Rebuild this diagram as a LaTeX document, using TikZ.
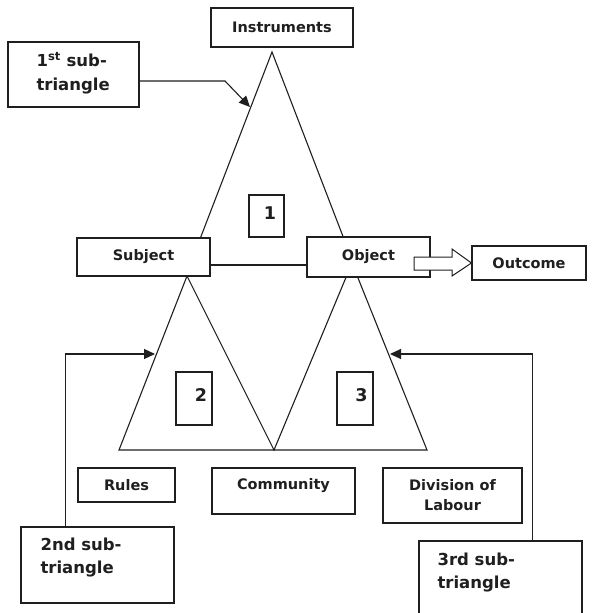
\documentclass[tikz,border=0pt]{standalone}
\usepackage{fontspec}
\setmainfont{DejaVu Sans}
\usetikzlibrary{arrows.meta}
\definecolor{ink}{gray}{0.12}
\begin{document}
\begin{tikzpicture}[x=1pt,y=-1pt, line width=1.1pt, draw=ink, text=ink,
  box/.style={draw=ink, fill=white, inner sep=0pt},
  lbl/.style={font=\fontsize{14.5}{20}\bfseries\selectfont, align=center},
  big/.style={font=\fontsize{16.5}{23.5}\bfseries\selectfont, align=left, inner sep=0pt},
  num/.style={font=\fontsize{17.5}{20}\bfseries\selectfont},
  tip/.style={-{Triangle[length=11pt,width=10pt]}}]
\useasboundingbox (0,0) rectangle (592,613);
\clip (0,0) rectangle (592,613);

% triangles
\coordinate (A1) at (272,52);
\coordinate (L1) at (190,265);
\coordinate (R1) at (354,265);
\coordinate (A2) at (187,276);
\coordinate (L2) at (119,450);
\coordinate (M)  at (274,450);
\coordinate (A3) at (352,263);
\coordinate (R3) at (427,450);
\draw (A1) -- (L1) -- (R1) -- cycle;
\draw (A2) -- (L2) -- (M) -- cycle;
\draw (A3) -- (M) -- (R3) -- cycle;

% boxes
\node[box, lbl, minimum width=142, minimum height=39] (instr) at (282,27.5) {Instruments};
\node[box, minimum width=131, minimum height=65] (first) at (73.5,74.5) {};
\node[big, anchor=north west] (firstt) at (36,52) {1\textsuperscript{st} sub-\\triangle};
\node[box, lbl, minimum width=133, minimum height=38] (subj) at (143.5,257) {Subject};
\node[box, lbl, minimum width=123, minimum height=40] (obj) at (368.5,257) {Object};
\node[box, lbl, minimum width=114, minimum height=34] (outc) at (529,263) {Outcome};
\node[box, minimum width=35, minimum height=42] (b1) at (266.5,216) {};
\node[box, minimum width=36, minimum height=53] (b2) at (194,398.5) {};
\node[box, minimum width=36, minimum height=53] (b3) at (355,398.5) {};
\node[num] (n1) at (270,213) {1};
\node[num] (n2) at (201,395) {2};
\node[num] (n3) at (361.5,395) {3};
\node[box, lbl, minimum width=97, minimum height=34] (rules) at (126.5,485) {Rules};
\node[box, minimum width=143, minimum height=46] (comm) at (283.5,491) {};
\node[lbl] (commt) at (283.5,486) {Community};
\node[box, lbl, minimum width=139, minimum height=55] (div) at (452.5,495.5) {Division of\\Labour};
\node[box, minimum width=153, minimum height=76] (second) at (97.5,565) {};
\node[big, anchor=north west] (secondt) at (40,537) {2nd sub-\\triangle};
\node[box, minimum width=163, minimum height=89] (third) at (500.5,585.5) {};
\node[big, anchor=north west] (thirdt) at (437,552) {3rd sub-\\triangle};

% Subject -- Object line
\draw (subj.east |- L1) -- (obj.west |- L1);

% block arrow Object => Outcome
\draw[line width=1pt, fill=white] (414,257) -- (452,257) -- (452,249) -- (outc.west) -- (452,276) -- (452,270) -- (414,270) -- cycle;

% pointer arrows
\coordinate (k1) at (225,81);
\coordinate (t1) at (250,107);
\draw[tip] (first.east |- k1) -- (k1) -- (t1);
\coordinate (k2) at (65.5,354);
\coordinate (t2) at (155,354);
\draw[tip] (k2 |- second.north) -- (k2) -- (t2);
\coordinate (k3) at (532.5,354);
\coordinate (t3) at (390,354);
\draw[tip] (k3 |- third.north) -- (k3) -- (t3);
\end{tikzpicture}
\end{document}
